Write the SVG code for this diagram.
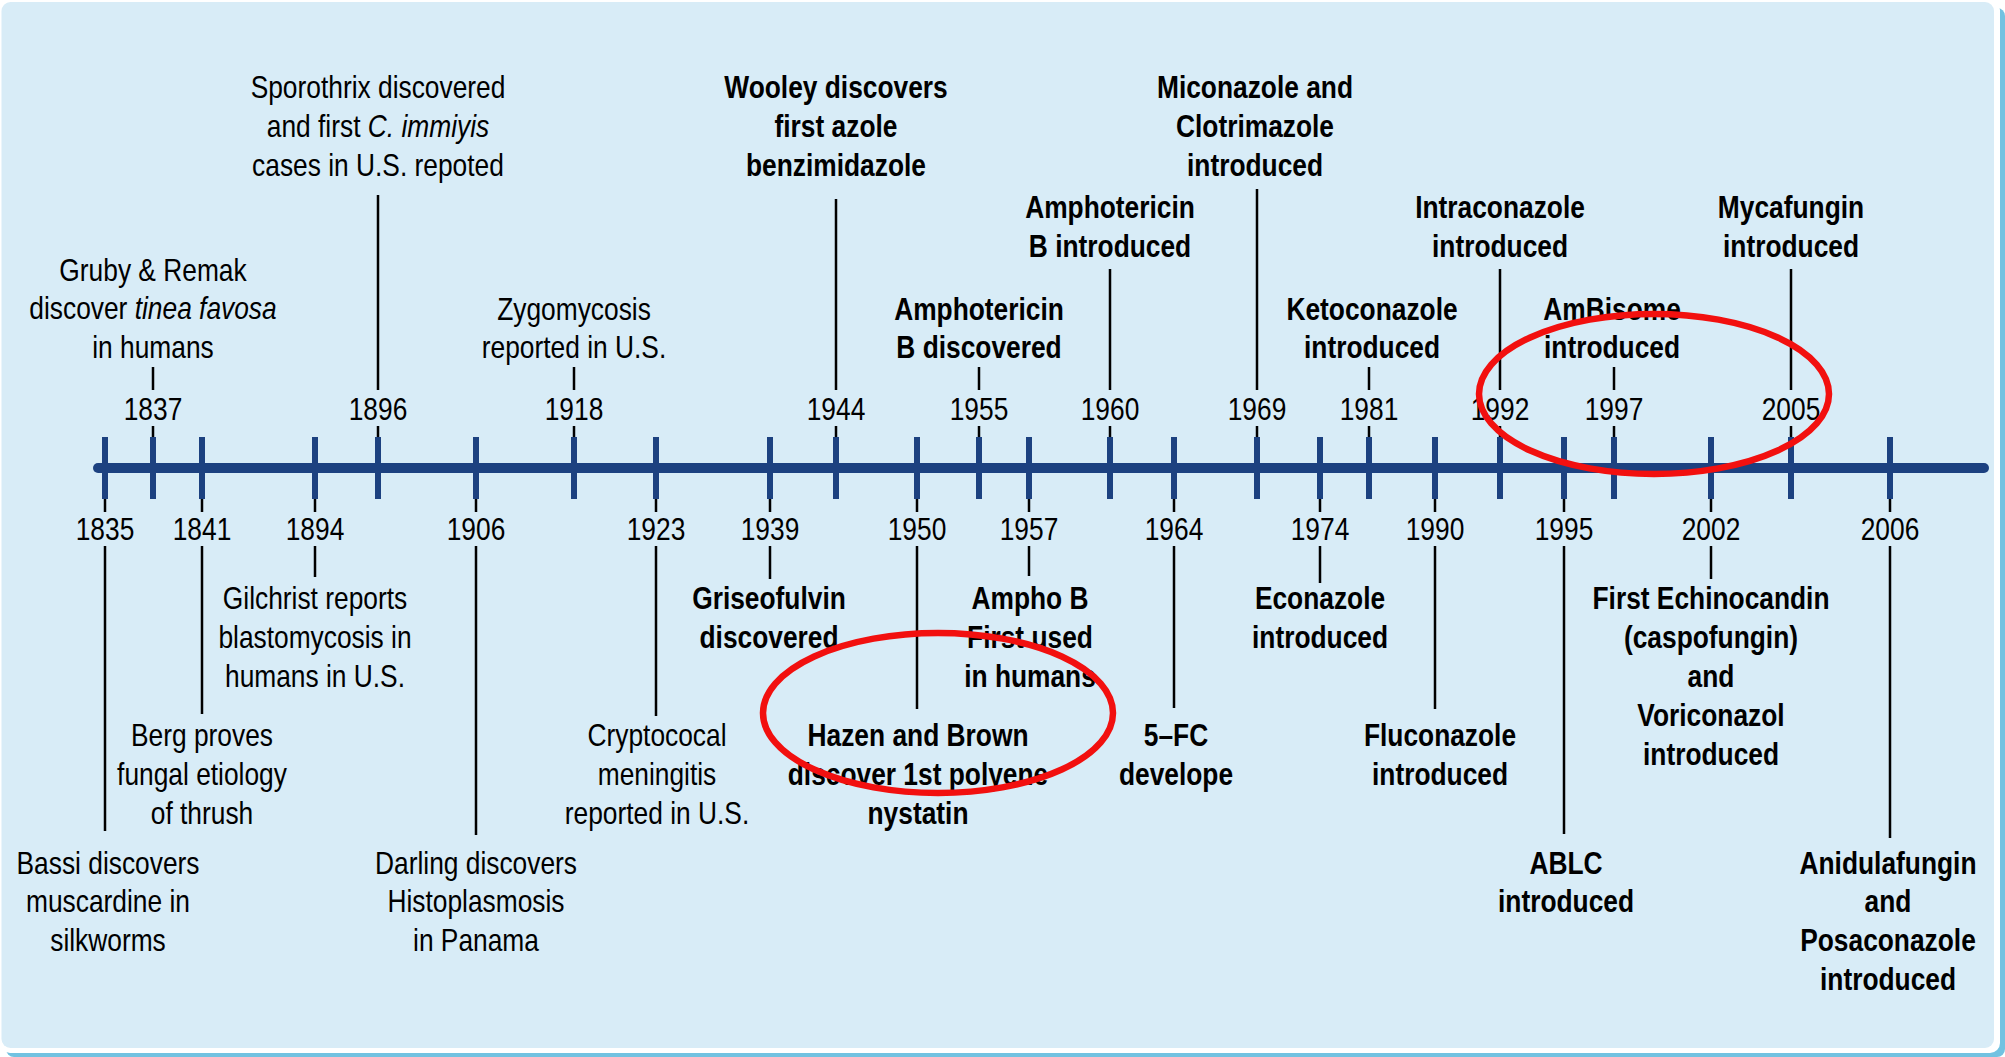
<svg xmlns="http://www.w3.org/2000/svg" width="2005" height="1057" viewBox="0 0 2005 1057">
<style>
.t{font-family:"Liberation Sans",Arial,sans-serif;font-size:31px;text-anchor:middle;fill:#000}
.b{font-weight:bold}
.i{font-style:italic}
.ld{stroke:#000;stroke-width:2.5;fill:none}
.tk{stroke:#1c4180;stroke-width:6}
.hl{fill:none;stroke:#f2100f;stroke-width:6.5}
</style>
<rect x="0" y="0" width="2005" height="1057" fill="#ffffff"/>
<rect x="6" y="8" width="1999" height="1049" rx="8" fill="#72c2e1"/>
<rect x="0" y="0" width="2000" height="1053" rx="10" fill="#ffffff"/>
<rect x="1.5" y="2" width="1992.5" height="1046" rx="9" fill="#d8ecf7"/>

<g id="connectors">
<path class="ld" d="M153 426V440M378 426V440M574 426V440M836 426V440M979 426V440M1110 426V440M1257 426V440M1369 426V440M1500 426V440M1614 426V440M1791 426V440"/>
<path class="ld" d="M153 367V390M378 195V390M574 367V390M836 199V390M979 367V390M1110 269V390M1257 189V390M1369 367V390M1500 269V390M1614 367V390M1791 269V390"/>
<path class="ld" d="M105 496V512M202 496V512M315 496V512M476 496V512M656 496V512M770 496V512M917 496V512M1029 496V512M1174 496V512M1320 496V512M1435 496V512M1564 496V512M1711 496V512M1890 496V512"/>
<path class="ld" d="M105 546V831M202 546V714M315 546V577M476 546V835M656 546V716M770 546V579M917 546V709M1029 546V576M1174 546V708M1320 546V583M1435 546V709M1564 546V834M1711 546V579M1890 546V838"/>
</g>

<g id="axis">
<line x1="98" y1="468" x2="1984" y2="468" stroke="#1c4180" stroke-width="10" stroke-linecap="round"/>
<path class="tk" d="M105 437V499M153 437V499M202 437V499M315 437V499M378 437V499M476 437V499M574 437V499M656 437V499M770 437V499M836 437V499M917 437V499M979 437V499M1029 437V499M1110 437V499M1174 437V499M1257 437V499M1320 437V499M1369 437V499M1435 437V499M1500 437V499M1564 437V499M1614 437V499M1711 437V499M1791 437V499M1890 437V499"/>
</g>

<g id="e1837">
<text class="t" transform="translate(153 0) scale(.85 1)" x="0" y="420">1837</text>
<text class="t" transform="translate(153 0) scale(.85 1)"><tspan x="0" y="281">Gruby &amp; Remak</tspan><tspan x="0" y="319">discover <tspan class="i">tinea favosa</tspan></tspan><tspan x="0" y="358">in humans</tspan></text>
</g>
<g id="e1896">
<text class="t" transform="translate(378 0) scale(.85 1)" x="0" y="420">1896</text>
<text class="t" transform="translate(378 0) scale(.85 1)"><tspan x="0" y="98">Sporothrix discovered</tspan><tspan x="0" y="137">and first <tspan class="i">C. immiyis</tspan></tspan><tspan x="0" y="176">cases in U.S. repoted</tspan></text>
</g>
<g id="e1918">
<text class="t" transform="translate(574 0) scale(.85 1)" x="0" y="420">1918</text>
<text class="t" transform="translate(574 0) scale(.85 1)"><tspan x="0" y="320">Zygomycosis</tspan><tspan x="0" y="358">reported in U.S.</tspan></text>
</g>
<g id="e1944">
<text class="t" transform="translate(836 0) scale(.85 1)" x="0" y="420">1944</text>
<text class="t b" transform="translate(836 0) scale(.85 1)"><tspan x="0" y="98">Wooley discovers</tspan><tspan x="0" y="137">first azole</tspan><tspan x="0" y="176">benzimidazole</tspan></text>
</g>
<g id="e1955">
<text class="t" transform="translate(979 0) scale(.85 1)" x="0" y="420">1955</text>
<text class="t b" transform="translate(979 0) scale(.85 1)"><tspan x="0" y="320">Amphotericin</tspan><tspan x="0" y="358">B discovered</tspan></text>
</g>
<g id="e1960">
<text class="t" transform="translate(1110 0) scale(.85 1)" x="0" y="420">1960</text>
<text class="t b" transform="translate(1110 0) scale(.85 1)"><tspan x="0" y="218">Amphotericin</tspan><tspan x="0" y="257">B introduced</tspan></text>
</g>
<g id="e1969">
<text class="t" transform="translate(1257 0) scale(.85 1)" x="0" y="420">1969</text>
<text class="t b" transform="translate(1255 0) scale(.85 1)"><tspan x="0" y="98">Miconazole and</tspan><tspan x="0" y="137">Clotrimazole</tspan><tspan x="0" y="176">introduced</tspan></text>
</g>
<g id="e1981">
<text class="t" transform="translate(1369 0) scale(.85 1)" x="0" y="420">1981</text>
<text class="t b" transform="translate(1372 0) scale(.85 1)"><tspan x="0" y="320">Ketoconazole</tspan><tspan x="0" y="358">introduced</tspan></text>
</g>
<g id="e1992">
<text class="t" transform="translate(1500 0) scale(.85 1)" x="0" y="420">1992</text>
<text class="t b" transform="translate(1500 0) scale(.85 1)"><tspan x="0" y="218">Intraconazole</tspan><tspan x="0" y="257">introduced</tspan></text>
</g>
<g id="e1997">
<text class="t" transform="translate(1614 0) scale(.85 1)" x="0" y="420">1997</text>
<text class="t b" transform="translate(1612 0) scale(.85 1)"><tspan x="0" y="320">AmBisome</tspan><tspan x="0" y="358">introduced</tspan></text>
</g>
<g id="e2005">
<text class="t" transform="translate(1791 0) scale(.85 1)" x="0" y="420">2005</text>
<text class="t b" transform="translate(1791 0) scale(.85 1)"><tspan x="0" y="218">Mycafungin</tspan><tspan x="0" y="257">introduced</tspan></text>
</g>

<g id="e1835">
<text class="t" transform="translate(105 0) scale(.85 1)" x="0" y="540">1835</text>
<text class="t" transform="translate(108 0) scale(.85 1)"><tspan x="0" y="874">Bassi discovers</tspan><tspan x="0" y="912">muscardine in</tspan><tspan x="0" y="951">silkworms</tspan></text>
</g>
<g id="e1841">
<text class="t" transform="translate(202 0) scale(.85 1)" x="0" y="540">1841</text>
<text class="t" transform="translate(202 0) scale(.85 1)"><tspan x="0" y="746">Berg proves</tspan><tspan x="0" y="785">fungal etiology</tspan><tspan x="0" y="824">of thrush</tspan></text>
</g>
<g id="e1894">
<text class="t" transform="translate(315 0) scale(.85 1)" x="0" y="540">1894</text>
<text class="t" transform="translate(315 0) scale(.85 1)"><tspan x="0" y="609">Gilchrist reports</tspan><tspan x="0" y="648">blastomycosis in</tspan><tspan x="0" y="687">humans in U.S.</tspan></text>
</g>
<g id="e1906">
<text class="t" transform="translate(476 0) scale(.85 1)" x="0" y="540">1906</text>
<text class="t" transform="translate(476 0) scale(.85 1)"><tspan x="0" y="874">Darling discovers</tspan><tspan x="0" y="912">Histoplasmosis</tspan><tspan x="0" y="951">in Panama</tspan></text>
</g>
<g id="e1923">
<text class="t" transform="translate(656 0) scale(.85 1)" x="0" y="540">1923</text>
<text class="t" transform="translate(657 0) scale(.85 1)"><tspan x="0" y="746">Cryptococal</tspan><tspan x="0" y="785">meningitis</tspan><tspan x="0" y="824">reported in U.S.</tspan></text>
</g>
<g id="e1939">
<text class="t" transform="translate(770 0) scale(.85 1)" x="0" y="540">1939</text>
<text class="t b" transform="translate(769 0) scale(.85 1)"><tspan x="0" y="609">Griseofulvin</tspan><tspan x="0" y="648">discovered</tspan></text>
</g>
<g id="e1950">
<text class="t" transform="translate(917 0) scale(.85 1)" x="0" y="540">1950</text>
<text class="t b" transform="translate(918 0) scale(.85 1)"><tspan x="0" y="746">Hazen and Brown</tspan><tspan x="0" y="785">discover 1st polyene</tspan><tspan x="0" y="824">nystatin</tspan></text>
</g>
<g id="e1957">
<text class="t" transform="translate(1029 0) scale(.85 1)" x="0" y="540">1957</text>
<text class="t b" transform="translate(1030 0) scale(.85 1)"><tspan x="0" y="609">Ampho B</tspan><tspan x="0" y="648">First used</tspan><tspan x="0" y="687">in humans</tspan></text>
</g>
<g id="e1964">
<text class="t" transform="translate(1174 0) scale(.85 1)" x="0" y="540">1964</text>
<text class="t b" transform="translate(1176 0) scale(.85 1)"><tspan x="0" y="746">5–FC</tspan><tspan x="0" y="785">develope</tspan></text>
</g>
<g id="e1974">
<text class="t" transform="translate(1320 0) scale(.85 1)" x="0" y="540">1974</text>
<text class="t b" transform="translate(1320 0) scale(.85 1)"><tspan x="0" y="609">Econazole</tspan><tspan x="0" y="648">introduced</tspan></text>
</g>
<g id="e1990">
<text class="t" transform="translate(1435 0) scale(.85 1)" x="0" y="540">1990</text>
<text class="t b" transform="translate(1440 0) scale(.85 1)"><tspan x="0" y="746">Fluconazole</tspan><tspan x="0" y="785">introduced</tspan></text>
</g>
<g id="e1995">
<text class="t" transform="translate(1564 0) scale(.85 1)" x="0" y="540">1995</text>
<text class="t b" transform="translate(1566 0) scale(.85 1)"><tspan x="0" y="874">ABLC</tspan><tspan x="0" y="912">introduced</tspan></text>
</g>
<g id="e2002">
<text class="t" transform="translate(1711 0) scale(.85 1)" x="0" y="540">2002</text>
<text class="t b" transform="translate(1711 0) scale(.85 1)"><tspan x="0" y="609">First Echinocandin</tspan><tspan x="0" y="648">(caspofungin)</tspan><tspan x="0" y="687">and</tspan><tspan x="0" y="726">Voriconazol</tspan><tspan x="0" y="765">introduced</tspan></text>
</g>
<g id="e2006">
<text class="t" transform="translate(1890 0) scale(.85 1)" x="0" y="540">2006</text>
<text class="t b" transform="translate(1888 0) scale(.85 1)"><tspan x="0" y="874">Anidulafungin</tspan><tspan x="0" y="912">and</tspan><tspan x="0" y="951">Posaconazole</tspan><tspan x="0" y="990">introduced</tspan></text>
</g>

<g id="highlights">
<ellipse class="hl" cx="938" cy="713" rx="175" ry="80"/>
<ellipse class="hl" cx="1654" cy="394" rx="175" ry="80"/>
</g>
</svg>
